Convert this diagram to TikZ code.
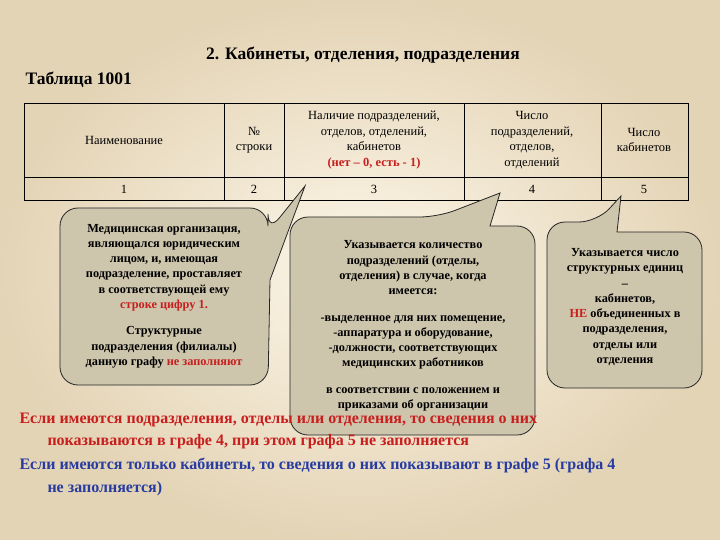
\documentclass[tikz,border=0pt]{standalone}
\usepackage{fontspec}
\setmainfont{Liberation Serif}
\begin{document}
\begin{tikzpicture}[x=1pt,y=-1pt,
  bub/.style={draw=black!85,line width=0.8pt,fill=bubfill,rounded corners=18pt},
  btext/.style={align=center,font=\bfseries\fontsize{12.3}{15.3}\selectfont},
  ttext/.style={align=center,font=\fontsize{12.5}{15.5}\selectfont},
  note/.style={anchor=west,align=left,font=\bfseries\fontsize{16}{22.8}\selectfont}]
\definecolor{bubfill}{RGB}{205,197,172}
\definecolor{redt}{RGB}{200,30,30}
\definecolor{bluet}{RGB}{40,60,160}
\useasboundingbox (0,0) rectangle (720,540);
\shade[inner color={rgb,255:red,252;green,246;blue,232},outer color={rgb,255:red,228;green,212;blue,182}] (0,0) rectangle (720,540);
\node[font=\bfseries\fontsize{17.5}{20}\selectfont] (title) at (363,55) {2. Кабинеты, отделения, подразделения};
\node[font=\bfseries\fontsize{17.5}{20}\selectfont,anchor=west] (tab) at (22,80) {Таблица 1001};
% table
\draw[line width=0.8pt] (24,103) rectangle (688,200);
\draw[line width=0.8pt] (24,177) -- (688,177);
\foreach \x in {224,284,464,601} \draw[line width=0.8pt] (\x,103) -- (\x,200);
\node[ttext] (h1) at (124,140) {Наименование};
\node[ttext] (h2) at (254,140) {№\\строки};
\node[ttext] (h3) at (374,140) {Наличие подразделений,\\отделов, отделений,\\кабинетов\\{\color{redt}\bfseries(нет – 0, есть - 1)}};
\node[ttext] (h4) at (532,140) {Число\\подразделений,\\отделов,\\отделений};
\node[ttext] (h5) at (644,140) {Число\\кабинетов};
\node[ttext] (n1) at (124,189) {1};
\node[ttext] (n2) at (254,189) {2};
\node[ttext] (n3) at (374,189) {3};
\node[ttext] (n4) at (532,189) {4};
\node[ttext] (n5) at (644,189) {5};
% bubbles
\path[bub] (60,208) -- (268,208) -- (268,232) [sharp corners]-- (305,186) -- (270,280) [rounded corners=18pt]-- (268,385) -- (60,385) -- cycle;
\node[btext] (b1) at (164,296) {Медицинская организация,\\являющался юридическим\\лицом, и, имеющая\\подразделение, проставляет\\в соответствующей ему\\{\color{redt}строке цифру 1.}\\[11pt]Структурные\\подразделения (филиалы)\\данную графу {\color{redt}не заполняют}};
\path[bub] (290,217) -- (438,217) [sharp corners]-- (500,193) -- (490,226) [rounded corners=18pt]-- (535,226) -- (535,435) -- (290,435) -- cycle;
\node[btext] (b2) at (413,326) {Указывается количество\\подразделений (отделы,\\отделения) в случае, когда\\имеется:\\[11pt]-выделенное для них помещение,\\-аппаратура и оборудование,\\-должности, соответствующих\\медицинских работников\\[11pt]в соответствии с положением и\\приказами об организации};
\path[bub] (547,222) -- (597,222) [sharp corners]-- (621,196) -- (617,232) [rounded corners=18pt]-- (702,232) -- (702,388) -- (547,388) -- cycle;
\node[btext] (b3) at (625,307) {Указывается число\\структурных единиц\\–\\кабинетов,\\{\color{redt}НЕ} объединенных в\\подразделения,\\отделы или\\отделения};
% notes
\node[note,text=redt] (t1) at (16,431) {Если имеются подразделения, отделы или отделения, то сведения о них\\\hspace*{28pt}показываются в графе 4, при этом графа 5 не заполняется};
\node[note,text=bluet] (t2) at (16,477) {Если имеются только кабинеты, то сведения о них показывают в графе 5 (графа 4\\\hspace*{28pt}не заполняется)};
\end{tikzpicture}
\end{document}
